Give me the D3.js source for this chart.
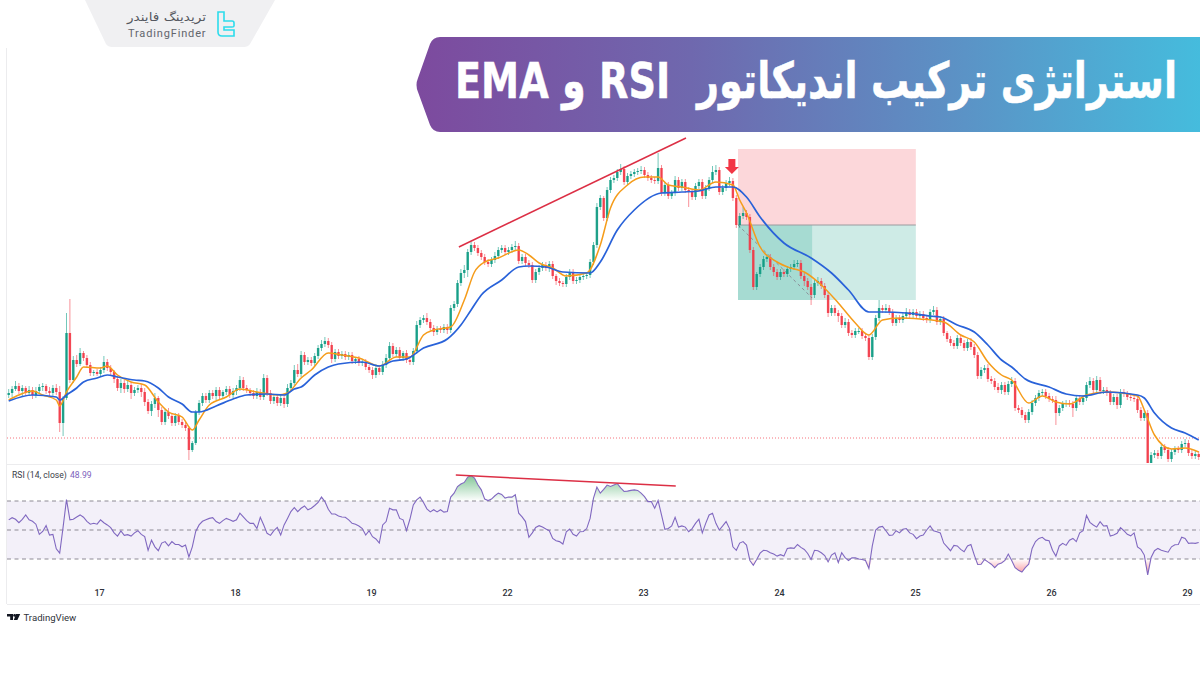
<!DOCTYPE html>
<html><head><meta charset="utf-8">
<script src="https://cdnjs.cloudflare.com/ajax/libs/d3/7.8.5/d3.min.js"></script>
<style>html,body{margin:0;padding:0;background:#fff;overflow:hidden}svg{display:block}</style>
</head><body><svg id="c" width="1200" height="675"></svg>
<script>
const titleText = "استراتژی ترکیب اندیکاتور  RSI و EMA";
const brandFa = "تریدینگ فایندر";
const brandEn = "TradingFinder";
const rsiLabel = "RSI (14, close)";
const rsiLast = "48.99";
const dayLabels = ["17","18","19","22","23","24","25","26","29"];
const dayBars = [27,67,107,147,187,227,267,307,347];
const closes = [
72,76,79,74,77,72,75,70,74,78,
79,74,72,77,73,42,67,132,85,105,
101,112,107,100,92,93,91,95,103,97,
93,86,77,82,76,80,72,75,77,73,
63,54,61,67,55,43,53,49,42,49,
43,40,37,15,22,53,62,69,65,72,
69,75,69,73,76,70,74,77,85,77,
75,72,69,73,68,87,72,64,68,62,
67,61,77,82,95,91,110,103,105,102,
109,117,121,124,120,106,113,109,111,108,
110,104,106,102,103,98,95,90,97,93,
100,107,119,111,115,107,112,105,103,114,
140,145,147,143,137,133,136,135,138,135,
157,161,182,192,195,213,220,217,212,208,
203,201,205,209,215,217,213,215,218,219,
204,208,202,200,185,193,197,200,197,201,
189,184,182,181,188,193,184,185,188,189,
190,203,220,258,267,247,275,285,287,293,
296,283,289,291,293,294,295,290,287,285,
284,297,272,280,269,272,285,277,283,275,
273,268,279,283,269,277,285,293,295,273,
277,282,284,267,240,249,252,248,215,178,
191,198,206,208,198,193,188,193,191,196,
198,201,202,189,184,178,170,182,184,179,
170,152,157,152,149,140,143,132,130,134,
134,129,127,108,128,147,157,155,157,153,
142,147,145,149,153,150,153,149,151,147,
145,153,155,143,146,132,126,122,119,127,
122,117,123,118,110,89,95,97,86,84,
78,75,80,73,81,84,57,55,50,45,
53,62,67,72,73,69,66,65,52,57,
61,62,61,57,67,63,67,80,84,75,
85,74,75,72,63,68,60,73,71,68,
67,66,55,47,52,-5,10,12,9,18,
15,6,13,16,15,21,22,12,9,11,8];
const wickUp = [
4,3,5,3,3,2,4,3,4,3,
3,2,4,3,4,6,2,20,34,4,
5,5,2,3,3,2,3,3,6,3,
3,2,3,4,3,4,3,3,3,4,
4,3,3,5,2,3,3,4,3,3,
3,3,3,2,2,2,3,3,3,3,
3,3,3,2,3,3,3,3,4,3,
3,2,3,4,3,4,3,3,2,3,
3,3,4,3,5,6,4,3,3,3,
3,3,4,4,3,3,3,3,3,3,
3,3,2,3,2,3,2,3,4,3,
4,4,4,3,3,3,2,3,3,3,
4,3,3,5,3,3,3,3,3,3,
3,3,3,4,5,3,3,3,3,3,
3,3,3,4,3,3,3,3,3,5,
3,3,3,3,3,3,3,3,3,3,
3,2,3,2,3,3,3,3,2,3,
3,3,3,4,3,2,3,3,3,3,
5,3,3,3,3,3,4,3,3,3,
3,15,3,3,3,3,4,3,3,3,
3,3,3,3,3,3,3,6,5,3,
3,3,4,3,3,3,6,3,3,3,
2,3,3,3,3,3,3,3,3,3,
3,4,3,3,3,3,3,3,4,3,
3,3,3,3,3,3,4,3,3,3,
3,3,3,3,3,3,8,3,4,3,
3,3,3,3,4,3,3,3,3,3,
3,3,4,3,3,3,2,3,3,3,
3,3,3,4,3,3,3,3,4,3,
3,4,3,3,3,4,3,3,3,3,
3,3,3,3,3,3,3,3,4,3,
3,3,3,3,3,3,3,3,4,3,
4,3,3,3,3,3,3,3,3,3,
3,3,3,3,3,3,3,3,3,3,
3,3,3,3,3,3,4,3,3,3,3];
const wickDown = [
3,4,2,3,5,3,3,4,3,3,
4,3,3,4,3,9,13,2,3,3,
3,2,3,3,3,3,2,3,3,3,
3,4,3,5,4,3,6,3,3,5,
4,3,5,4,7,3,3,3,3,3,
3,3,3,10,2,2,3,3,3,3,
3,4,3,3,3,3,3,4,3,3,
3,3,3,3,3,3,3,3,3,3,
3,4,3,3,3,3,3,3,3,3,
3,3,3,3,3,4,3,3,3,3,
3,3,3,3,3,3,3,4,3,3,
3,3,3,3,3,3,3,3,3,3,
3,3,3,3,3,4,3,3,3,4,
3,3,3,3,5,7,3,3,3,3,
3,3,3,3,3,3,3,3,3,3,
3,3,3,3,3,3,3,3,3,4,
3,4,3,3,3,3,3,3,3,3,
3,3,3,3,3,3,3,3,3,3,
3,3,3,3,3,3,3,3,3,3,
3,3,3,3,3,3,3,3,3,3,
15,3,3,3,3,3,3,3,3,3,
3,3,3,3,3,3,3,3,3,3,
3,3,3,3,3,4,3,3,3,3,
3,3,3,3,5,3,10,3,3,3,
3,4,3,3,6,3,3,3,3,3,
3,3,3,3,3,3,3,3,3,3,
3,3,3,3,3,3,3,3,3,3,
3,3,3,3,3,3,3,3,3,3,
3,3,3,3,3,3,3,3,3,3,
3,3,4,3,3,3,3,3,3,3,
3,3,3,3,3,3,3,3,12,3,
3,3,3,9,3,3,3,3,3,3,
3,3,3,3,3,3,4,3,3,3,
3,3,3,3,3,0,3,3,3,3,
3,3,3,3,3,3,3,3,3,3,3];
const rsi = [
57,58.5,57.4,55,57.4,60.4,57,56,54,47,49,53,46.5,47,37,34,52,71,57,57.4,
59,60.4,58.8,56,54,54.6,54,57,55,53.5,51.6,48,45.8,49.3,46.3,46.8,45.8,48,49.5,47,
45.4,36,43,38.4,35.7,41,42,39,42,40,40,38.4,39.6,31.5,38.4,49,53.5,56,57,58,
58.5,55.8,54.6,56.5,58,57,56,57,61.6,59,56.5,54.6,54.6,51,58.8,53.5,47.7,46.3,49.5,51.8,
46.5,53.5,58,62.7,65.5,62.7,65,66.6,63.9,65,66.9,69,72.7,69.6,64.3,61,61,59.7,59,58.8,
57,54.6,54,52.8,51,46.5,49.5,45.4,43.8,41,53.5,55.8,65,63.9,63.9,58,57,49.5,57.4,67.3,
70.8,72.7,69,64.6,62.5,64,62.5,64,62.3,62.7,72.7,75.4,80,81.7,82.8,86.5,87.5,85.8,81.2,77.7,
71.3,70.3,71.3,73.6,75.4,74.5,72,72.7,72.7,74.3,61.6,59,55.8,45,48,51.8,53,52,50.7,49.5,
44.2,42.6,42,40.3,48.8,50.7,47,45.8,48.8,49,51,58,72,79.6,75.4,78,81,80,81,82,
79,76.6,76.8,77.3,77.7,77.3,75.4,73,69.6,69.6,65,70.3,60.4,50.5,51,52.8,58.8,52,52.8,52,
48.8,51,54.6,57.4,48,54.6,60.4,61.6,54.6,50,52.8,55.8,51,38.4,36,41,42,39.6,29,25.7,
29.7,34,36,35.7,34.3,33.4,32,33,32,37.3,37.7,37.3,40,38,36.6,33.8,29.7,36,35.7,34.3,
32.4,28,32.7,34.3,27.6,34.3,31,29,30.8,30.8,30,29.7,29,23.4,39,50,52,52.5,49.5,46.3,
46.5,49.5,48,50.5,51,48,47,44,45.8,46.5,50,52.8,49.5,48.8,48,41,38.4,35.7,39.4,39,
36.6,35,39,40,32.7,26.2,26.4,29.7,28,26.4,24,26.4,27.3,29,33.4,29,24,22.3,21,24,
26.4,37.3,42,44.2,45,43,42.6,36,32,39,40.8,39.4,43,44.2,42,48,49.5,60,55.3,53.5,
52,55.8,52.8,53,45.8,46.5,47.7,51.6,49.5,47,46,48,38.4,36.6,32.7,19,31,35.7,37.3,36,
35.4,34.7,38.4,39.8,40,45,44.2,40.8,41,40.8,41.4];
const emaSlowBars = [0,7,14,15,17,20,22,26,29,32,37,40,44,47,51,54,56,61,66,70,76,81,84,86,90,94,97,104,109,113,117,122,129,133,136,139,145,150,153,158,163,171,174,179,184,192,198,203,208,213,217,221,228,236,242,247,253,257,264,271,274,279,284,288,292,295,299,306,311,316,323,332,334,337,342,346,350];
const emaSlow = [64,70,68,65,70,77,83,87,90,88,85,84,77,68,61,53,53,59,66,70,71,70,76,78,90,98,101,103,99,104,106,117,126,140,155,170,185,198,199,198,193,192,203,235,255,272,273,274,278,278,268,248,222,207,192,175,153,153,152,149,148,140,133,120,105,98,86,78,71,69,73,70,67,52,37,32,25];
const emaFastBars = [0,3,7,10,14,15,17,20,22,27,29,32,36,40,44,47,51,54,56,59,64,68,73,79,82,86,89,94,98,103,109,114,118,122,125,130,134,137,140,144,150,153,156,160,164,170,174,177,182,187,191,194,198,203,208,213,215,217,221,226,230,234,239,244,249,253,257,262,268,275,280,284,288,292,295,300,304,308,312,317,323,332,334,337,342,346,350];
const emaFast = [65,70,74,70,65,59,73,88,98,97,99,90,83,80,63,53,48,35,45,60,68,76,73,70,72,87,95,112,110,107,99,108,108,130,135,138,165,193,203,207,215,210,202,197,189,192,220,257,280,288,288,280,278,275,283,280,265,252,218,203,197,193,180,162,142,130,145,147,146,143,130,123,103,90,85,62,69,63,61,70,73,69,55,30,16,17,13];
const riseLine = {bars:[132.4,199.2], values:[218,327]};
const rsiSlope = {bars:[131.5,196.2], values:[87.9,80.3]};
const entryBars = [214.5,236.3,266.8];
const stopLevels = [316,240,165];
const pathBars = [214.5,236.3];
const pathVals = [240,167];
const signalBar = 212.7;
const supportLevel = 27;

const svg = d3.select("#c");
const defs = svg.append("defs");
const x = d3.scaleLinear().domain([0,350]).range([8.7,1198.7]);
const y = d3.scaleLinear().domain([0,340]).range([465,125]);
const yR = d3.scaleLinear().domain([30,70]).range([559,501]);
const UP="#089981", DOWN="#f23645";

const g1 = defs.append("linearGradient").attr("id","ban").attr("x1",0).attr("x2",1).attr("y1",0).attr("y2",0);
[[0,"#7d4a9e"],[.35,"#6f68ae"],[.7,"#5b93c6"],[1,"#45bcdd"]].forEach(s=>g1.append("stop").attr("offset",s[0]).attr("stop-color",s[1]));
const gG = defs.append("linearGradient").attr("id","ob").attr("gradientUnits","userSpaceOnUse").attr("x1",0).attr("x2",0).attr("y1",yR(88)).attr("y2",yR(70));
gG.append("stop").attr("offset",0).attr("stop-color","#3aa55a").attr("stop-opacity",.65);
gG.append("stop").attr("offset",1).attr("stop-color","#3aa55a").attr("stop-opacity",0);
const gR = defs.append("linearGradient").attr("id","os").attr("gradientUnits","userSpaceOnUse").attr("x1",0).attr("x2",0).attr("y1",yR(30)).attr("y2",yR(20));
gR.append("stop").attr("offset",0).attr("stop-color","#f23645").attr("stop-opacity",0);
gR.append("stop").attr("offset",1).attr("stop-color","#f23645").attr("stop-opacity",.5);
defs.append("clipPath").attr("id","pane").append("rect").attr("x",7).attr("y",40).attr("width",1193).attr("height",423);
defs.append("filter").attr("id","soft").attr("x","-2%").attr("y","-2%").attr("width","104%").attr("height","104%")
  .append("feGaussianBlur").attr("stdDeviation",.4);

svg.append("rect").attr("width",1200).attr("height",675).attr("fill","#fff");
// frame
const FR="#ececee";
svg.append("line").attr("x1",6.5).attr("x2",6.5).attr("y1",48).attr("y2",604).attr("stroke",FR);
svg.append("line").attr("x1",7).attr("x2",1200).attr("y1",464.5).attr("y2",464.5).attr("stroke",FR);
svg.append("line").attr("x1",7).attr("x2",1200).attr("y1",604.5).attr("y2",604.5).attr("stroke",FR);

const main = svg.append("g").attr("clip-path","url(#pane)");
main.append("line").attr("x1",7).attr("x2",1200).attr("y1",y(supportLevel)).attr("y2",y(supportLevel))
  .attr("stroke","#f23645").attr("stroke-width",1).attr("stroke-dasharray","1 2").attr("opacity",.7);
// position tool
const rb = (a,b,t,bt,fill,op)=>main.append("rect").attr("x",x(a)).attr("width",x(b)-x(a)).attr("y",y(t)).attr("height",y(bt)-y(t)).attr("fill",fill).attr("fill-opacity",op);
rb(entryBars[0],entryBars[2],stopLevels[0],stopLevels[1],"#f23645",.2);
rb(entryBars[0],entryBars[2],stopLevels[1],stopLevels[2],"#089981",.2);
rb(entryBars[0],entryBars[1],stopLevels[1],stopLevels[2],"#089981",.2);
main.append("line").attr("x1",x(entryBars[0])).attr("x2",x(entryBars[2])).attr("y1",y(stopLevels[1])).attr("y2",y(stopLevels[1])).attr("stroke","#9a9a9e").attr("stroke-width",1);
main.append("line").attr("x1",x(pathBars[0])).attr("x2",x(pathBars[1])).attr("y1",y(pathVals[0])).attr("y2",y(pathVals[1])).attr("stroke","#8a8f98").attr("stroke-width",1).attr("stroke-dasharray","3 3");

// candles
const bars = closes.map((c,i)=>{const o=i?closes[i-1]:70;return {i,o,c,h:Math.max(o,c)+wickUp[i],l:Math.min(o,c)-wickDown[i]};});
const cg = main.append("g").attr("filter","url(#soft)");
cg.selectAll("line").data(bars).join("line")
  .attr("x1",d=>x(d.i)).attr("x2",d=>x(d.i)).attr("y1",d=>y(d.h)).attr("y2",d=>y(d.l))
  .attr("stroke",d=>d.c>=d.o?UP:DOWN).attr("stroke-width",1).attr("stroke-opacity",.55);
cg.selectAll("rect").data(bars).join("rect")
  .attr("x",d=>x(d.i)-1.2).attr("width",2.4)
  .attr("y",d=>y(Math.max(d.o,d.c))).attr("height",d=>Math.max(1,Math.abs(y(d.o)-y(d.c))))
  .attr("fill",d=>d.c>=d.o?UP:DOWN).attr("fill-opacity",.9);

// EMAs
const ln = d3.line().x(d=>x(d[0])).y(d=>y(d[1])).curve(d3.curveMonotoneX);
main.append("path").attr("d",ln(d3.zip(emaFastBars,emaFast))).attr("fill","none").attr("stroke","#f59c1a").attr("stroke-width",1.5);
main.append("path").attr("d",ln(d3.zip(emaSlowBars,emaSlow))).attr("fill","none").attr("stroke","#2962d9").attr("stroke-width",1.7);

// trend line & arrow
svg.append("line").attr("x1",x(riseLine.bars[0])).attr("x2",x(riseLine.bars[1])).attr("y1",y(riseLine.values[0])).attr("y2",y(riseLine.values[1])).attr("stroke","#dc2f45").attr("stroke-width",1.5);
const ax=x(signalBar), ay=y(291);
svg.append("path").attr("d",`M${ax-3.5},${ay-15}h7v8h3.5l-7,7l-7,-7h3.5z`).attr("fill","#f23645");

// RSI
svg.append("rect").attr("x",7).attr("width",1193).attr("y",yR(70)).attr("height",yR(30)-yR(70)).attr("fill","#7e57c2").attr("fill-opacity",.09);
[70,50,30].forEach(v=>svg.append("line").attr("x1",7).attr("x2",1200).attr("y1",yR(v)).attr("y2",yR(v)).attr("stroke","#8d8a94").attr("stroke-width",1).attr("stroke-dasharray","4 3.5"));
const aOB=d3.area().x((d,i)=>x(i)).y0(yR(70)).y1(d=>yR(Math.max(d,70)));
const aOS=d3.area().x((d,i)=>x(i)).y0(yR(30)).y1(d=>yR(Math.min(d,30)));
svg.append("path").attr("d",aOB(rsi)).attr("fill","url(#ob)");
svg.append("path").attr("d",aOS(rsi)).attr("fill","url(#os)");
svg.append("path").attr("d",d3.line().x((d,i)=>x(i)).y(d=>yR(d))(rsi)).attr("fill","none").attr("stroke","#8068c0").attr("stroke-width",1.1);
svg.append("line").attr("x1",x(rsiSlope.bars[0])).attr("x2",x(rsiSlope.bars[1])).attr("y1",yR(rsiSlope.values[0])).attr("y2",yR(rsiSlope.values[1])).attr("stroke","#dc2f45").attr("stroke-width",1.5);
const FONT="Roboto, 'Open Sans', sans-serif";
svg.append("text").attr("x",12).attr("y",478).attr("font-family",FONT).attr("font-size",8.6).attr("fill","#3a3d47").text(rsiLabel);
svg.append("text").attr("x",70).attr("y",478).attr("font-family",FONT).attr("font-size",8.6).attr("fill","#7e62bd").text(rsiLast);

// axis
const xa = svg.append("g").attr("transform","translate(-1.5,587)")
  .call(d3.axisBottom(x).tickValues(dayBars).tickSize(0).tickFormat((d,i)=>dayLabels[i]));
xa.select(".domain").remove();
xa.selectAll("text").attr("font-family",FONT).attr("font-size",9).attr("font-weight",500).attr("fill","#2f323a");

// TradingView mark
svg.append("path").attr("d","M7,614h6v6h-2.8v-3.6h-3.2zM16,614h4.2l-2.8,6h-3.6z").attr("fill","#131722");
svg.append("circle").attr("cx",14.6).attr("cy",615.4).attr("r",1.4).attr("fill","#131722");
svg.append("text").attr("x",23.5).attr("y",621).attr("font-family",FONT).attr("font-size",9.6).attr("fill","#2f323a").text("TradingView");

// banner
svg.append("path").attr("d","M1200,37H440Q433,37 430,44L418,78Q415,85 418,92L430,125Q433,132 440,132H1200Z").attr("fill","url(#ban)");
svg.append("text").attr("x",816).attr("y",98).attr("direction","rtl").attr("text-anchor","middle").attr("xml:space","preserve").style("white-space","pre")
  .attr("font-family","'DejaVu Sans', sans-serif").attr("font-weight",700).attr("font-size",50).attr("fill","#fff")
  .attr("stroke","#fff").attr("stroke-width",.5)
  .attr("textLength",722).attr("lengthAdjust","spacingAndGlyphs").text(titleText);

// brand tab
svg.append("path").attr("d","M85,0H275L250,44Q248,47 244,47H112Q108,47 106,44Z").attr("fill","#f0f0f2");
svg.append("text").attr("x",166.5).attr("y",21).attr("direction","rtl").attr("text-anchor","middle").attr("font-family","'DejaVu Sans', sans-serif").attr("font-size",12).attr("textLength",79).attr("lengthAdjust","spacingAndGlyphs").attr("fill","#55585f").text(brandFa);
svg.append("text").attr("x",128).attr("y",37).attr("font-family",FONT).attr("font-size",11).attr("letter-spacing",.85).attr("fill","#62656c").text(brandEn);
svg.append("path").attr("d","M218,12H224V21H232Q234,21 234,23V26Q234,27 232,27H224V30H234V36H222Q218,36 218,32Z").attr("fill","none").attr("stroke","#2cdcec").attr("stroke-width",1.6);
</script></body></html>
